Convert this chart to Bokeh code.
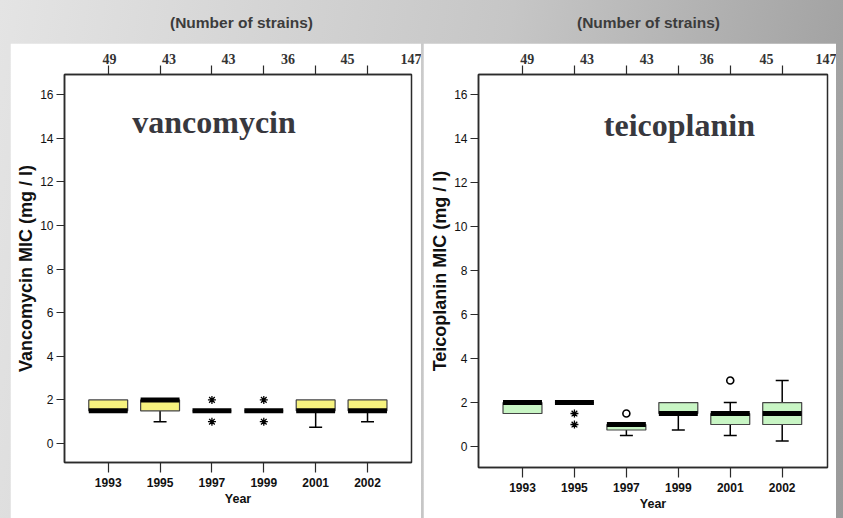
from bokeh.plotting import figure
from bokeh.models import (Range1d, FixedTicker, LinearAxis, Label, Div,
                          ColumnDataSource, GlobalInlineStyleSheet)
from bokeh.layouts import row, column
from bokeh.embed import file_html
from bokeh.resources import INLINE

# ---------------- data ----------------
years = ["1993", "1995", "1997", "1999", "2001", "2002"]
strain_counts = ["49", "43", "43", "36", "45"]
strain_total = "147"
y_ticks = [0, 2, 4, 6, 8, 10, 12, 14, 16]

van_low = [1.5, 1.0, 1.5, 1.5, 0.75, 1.0]
van_q1 = [1.5, 1.5, 1.5, 1.5, 1.5, 1.5]
van_median = [1.5, 2.0, 1.5, 1.5, 1.5, 1.5]
van_q3 = [2.0, 2.0, 1.5, 1.5, 2.0, 2.0]
van_high = [2.0, 2.0, 1.5, 1.5, 2.0, 2.0]
van_extreme_year = ["1997", "1997", "1999", "1999"]
van_extreme_value = [2.0, 1.0, 2.0, 1.0]
van_outlier_year = []
van_outlier_value = []

tei_low = [1.5, 2.0, 0.5, 0.75, 0.5, 0.25]
tei_q1 = [1.5, 2.0, 0.75, 1.5, 1.0, 1.0]
tei_median = [2.0, 2.0, 1.0, 1.5, 1.5, 1.5]
tei_q3 = [2.0, 2.0, 1.0, 2.0, 1.5, 2.0]
tei_high = [2.0, 2.0, 1.0, 2.0, 2.0, 3.0]
tei_extreme_year = ["1995", "1995"]
tei_extreme_value = [1.5, 1.0]
tei_outlier_year = ["1997", "2001"]
tei_outlier_value = [1.5, 3.0]

AX = "#2b2b2b"


def make_panel(width, height, borders, xr, yr, lab_off, lab_step,
               low, q1, med, q3, high, ext_year, ext_val, out_year, out_val,
               fill, ylabel, drug, drug_x, drug_y):
    bl, br, bt, bb = borders
    p = figure(width=width, height=height,
               x_range=Range1d(*xr), y_range=Range1d(*yr),
               output_backend="svg", toolbar_location=None,
               x_axis_location=None, y_axis_location=None,
               min_border_left=bl, min_border_right=br,
               min_border_top=bt, min_border_bottom=bb,
               background_fill_color="white", border_fill_color="white")
    for g in p.grid:
        g.visible = False
    p.outline_line_color = AX
    p.outline_line_width = 1.5

    xpos = list(range(len(years)))

    # bottom axis (years)
    bottom = LinearAxis(ticker=FixedTicker(ticks=xpos, minor_ticks=[]),
                        major_label_overrides={i: y for i, y in zip(xpos, years)},
                        axis_label="Year")
    bottom.major_tick_out = 10
    bottom.major_tick_in = 0
    bottom.minor_tick_line_color = None
    bottom.major_tick_line_color = AX
    bottom.major_tick_line_width = 1.2
    bottom.axis_line_color = AX
    bottom.axis_line_width = 1.5
    bottom.major_label_standoff = 5
    bottom.major_label_text_font = "Liberation Sans"
    bottom.major_label_text_font_style = "bold"
    bottom.major_label_text_font_size = "12px"
    bottom.major_label_text_color = "#111111"
    bottom.axis_label_standoff = 2
    bottom.axis_label_text_font = "Liberation Sans"
    bottom.axis_label_text_font_style = "bold"
    bottom.axis_label_text_font_size = "12.5px"
    bottom.axis_label_text_color = "#111111"
    p.add_layout(bottom, "below")

    # top axis: ticks at years, counts of strains as labels
    labels = strain_counts + [strain_total]
    lab_pos = [round(lab_off + i * lab_step, 3) for i in range(len(strain_counts))]
    lab_pos.append(round(xr[1] - 0.01, 3))
    top = LinearAxis(ticker=FixedTicker(ticks=lab_pos, minor_ticks=xpos),
                     major_label_overrides={v: t for v, t in zip(lab_pos, labels)})
    top.major_tick_out = 9
    top.major_tick_in = 0
    top.major_tick_line_color = None
    top.minor_tick_out = 9
    top.minor_tick_in = 0
    top.minor_tick_line_color = AX
    top.minor_tick_line_width = 1.2
    top.axis_line_color = AX
    top.axis_line_width = 1.5
    top.major_label_standoff = 2
    top.major_label_text_font = "Liberation Serif"
    top.major_label_text_font_style = "bold"
    top.major_label_text_font_size = "14px"
    top.major_label_text_color = "#333333"
    p.add_layout(top, "above")

    # left axis
    left = LinearAxis(ticker=FixedTicker(ticks=y_ticks, minor_ticks=[]),
                      axis_label=ylabel)
    left.major_tick_out = 8
    left.major_tick_in = 0
    left.minor_tick_line_color = None
    left.major_tick_line_color = AX
    left.major_tick_line_width = 1.2
    left.axis_line_color = AX
    left.axis_line_width = 1.5
    left.major_label_standoff = 3
    left.major_label_text_font = "Liberation Sans"
    left.major_label_text_font_size = "12px"
    left.major_label_text_color = "#111111"
    left.axis_label_standoff = 1
    left.axis_label_text_font = "Liberation Sans"
    left.axis_label_text_font_style = "bold"
    left.axis_label_text_font_size = "18px"
    left.axis_label_text_color = "#111111"
    p.add_layout(left, "left")

    bw = 0.75
    cw = 0.25
    src = ColumnDataSource(dict(
        x=xpos, low=low, q1=q1, med=med, q3=q3, high=high,
        xl=[x - bw / 2 for x in xpos], xr=[x + bw / 2 for x in xpos]))

    # whiskers
    up = [i for i in xpos if high[i] > q3[i]]
    dn = [i for i in xpos if low[i] < q1[i]]
    p.segment(x0=[xpos[i] for i in up], x1=[xpos[i] for i in up],
              y0=[q3[i] for i in up], y1=[high[i] for i in up],
              line_color="black", line_width=1.5)
    p.segment(x0=[xpos[i] - cw / 2 for i in up], x1=[xpos[i] + cw / 2 for i in up],
              y0=[high[i] for i in up], y1=[high[i] for i in up],
              line_color="black", line_width=1.5)
    p.segment(x0=[xpos[i] for i in dn], x1=[xpos[i] for i in dn],
              y0=[q1[i] for i in dn], y1=[low[i] for i in dn],
              line_color="black", line_width=1.5)
    p.segment(x0=[xpos[i] - cw / 2 for i in dn], x1=[xpos[i] + cw / 2 for i in dn],
              y0=[low[i] for i in dn], y1=[low[i] for i in dn],
              line_color="black", line_width=1.5)

    # boxes
    p.vbar(x="x", width=bw, bottom="q1", top="q3", source=src,
           fill_color=fill, line_color="#444444", line_width=1.2)
    # median band
    p.segment(x0="xl", x1="xr", y0="med", y1="med", source=src,
              line_color="black", line_width=5, line_cap="butt")

    # extremes (stars) and outliers (circles)
    if ext_year:
        p.scatter(x=[years.index(y) for y in ext_year], y=ext_val,
                  marker="asterisk", size=8, line_color="black", line_width=1.3)
    if out_year:
        p.scatter(x=[years.index(y) for y in out_year], y=out_val,
                  marker="circle", size=7, fill_color=None,
                  line_color="black", line_width=1.6)

    p.add_layout(Label(x=drug_x, y=drug_y, text=drug, text_align="center",
                       text_baseline="alphabetic",
                       text_font="Liberation Serif", text_font_style="bold",
                       text_font_size="32px", text_color="#38383e"))
    return p


figL = make_panel(411, 475, (54, 10, 31, 56), (-0.843, 5.848), (-0.871, 16.917),
                  0.025, 1.147,
                  van_low, van_q1, van_median, van_q3, van_high,
                  van_extreme_year, van_extreme_value,
                  van_outlier_year, van_outlier_value,
                  "#f6f27e", "Vancomycin MIC (mg / l)", "vancomycin", 2.04, 14.75)

figR = make_panel(413, 475, (55, 9, 31, 51), (-0.847, 5.872), (-0.955, 16.92),
                  0.09, 1.152,
                  tei_low, tei_q1, tei_median, tei_q3, tei_high,
                  tei_extreme_year, tei_extreme_value,
                  tei_outlier_year, tei_outlier_value,
                  "#c8f5c4", "Teicoplanin MIC (mg / l)", "teicoplanin", 3.02, 14.63)


def header(width, pad):
    return Div(text=('<div style="padding-left:%dpx;padding-top:12px;'
                     'font-family:\'Liberation Sans\',Arial,sans-serif;'
                     'font-weight:bold;font-size:15.5px;color:#3c3c3c;'
                     'white-space:nowrap;">(Number of strains)</div>') % pad,
               width=width, height=43, margin=0)


colL = column(header(411, 160), figL, spacing=0, margin=(0, 0, 0, 10))
colR = column(header(413, 154), figR, spacing=0, margin=(0, 0, 0, 2))
root = row(colL, colR, spacing=0, margin=0)
root.stylesheets = [GlobalInlineStyleSheet(
    css="html, body { background: linear-gradient(100deg, #e4e4e4 0%, #c6c6c6 55%, #9a9a9a 100%) fixed; }")]

open("out.html", "w").write(file_html(root, INLINE))
